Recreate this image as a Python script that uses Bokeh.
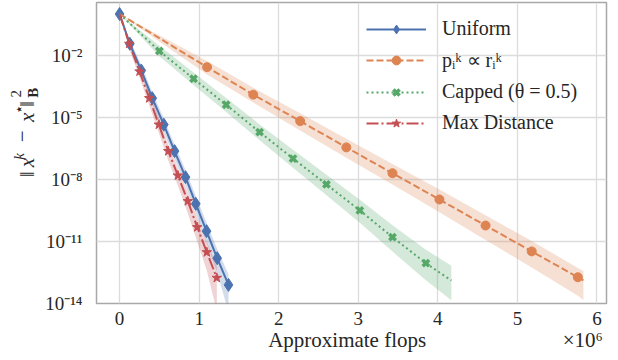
import numpy as np
from bokeh.plotting import figure
from bokeh.layouts import row
from bokeh.models import Range1d, FixedTicker, Legend, LegendItem, Label
from bokeh.embed import file_html
from bokeh.resources import INLINE

FONT = "Liberation Serif"
TEXT = "#262626"

# x: approximate flops in units of 1e6; y: log10 of ||x^k - x*||_B^2 (mean)
# band_hi / band_lo: spread above / below the mean, in decades
uniform_x = [0, 0.129, 0.273, 0.411, 0.556, 0.691, 0.829, 0.958, 1.093, 1.227, 1.369]
uniform_y = [0, -1.44, -2.73, -4.07, -5.35, -6.63, -7.89, -9.18, -10.50, -11.81, -13.10]
uniform_hi = [0, 0.20, 0.25, 0.30, 0.30, 0.32, 0.35, 0.38, 0.40, 0.45, 0.50]
uniform_lo = [0, 0.20, 0.25, 0.30, 0.35, 0.38, 0.42, 0.48, 0.55, 0.70, 1.30]

prop_x = [0, 1.10, 1.68, 2.27, 2.85, 3.43, 4.02, 4.60, 5.18, 5.76, 5.83]
prop_y = [0, -2.57, -3.90, -5.18, -6.45, -7.70, -8.97, -10.23, -11.48, -12.73, -12.88]
prop_hi = [0, 0.30, 0.33, 0.38, 0.42, 0.45, 0.48, 0.50, 0.50, 0.45, 0.45]
prop_lo = [0, 0.35, 0.38, 0.45, 0.50, 0.55, 0.62, 0.70, 0.78, 0.90, 0.95]

capped_x = [0, 0.50, 0.93, 1.34, 1.76, 2.18, 2.60, 3.02, 3.43, 3.85, 4.17]
capped_y = [0, -1.79, -3.13, -4.39, -5.71, -6.99, -8.24, -9.50, -10.79, -12.05, -12.89]
capped_hi = [0, 0.25, 0.30, 0.33, 0.37, 0.42, 0.47, 0.52, 0.58, 0.65, 0.72]
capped_lo = [0, 0.25, 0.30, 0.35, 0.40, 0.45, 0.52, 0.60, 0.70, 0.82, 0.95]

maxdist_x = [0, 0.122, 0.251, 0.373, 0.494, 0.612, 0.733, 0.858, 0.976, 1.097, 1.222]
maxdist_y = [0, -1.44, -2.78, -4.07, -5.35, -6.63, -7.81, -9.05, -10.31, -11.52, -12.76]
maxdist_hi = [0, 0.20, 0.25, 0.30, 0.30, 0.32, 0.35, 0.40, 0.45, 0.50, 0.55]
maxdist_lo = [0, 0.25, 0.30, 0.35, 0.40, 0.45, 0.50, 0.60, 0.70, 0.90, 1.60]

labels = ["Uniform", "pᵢᵏ ∝ rᵢᵏ", "Capped (θ = 0.5)", "Max Distance"]
colors = ["#4C72B0", "#DD8452", "#55A868", "#C44E52"]

x_ticks = [0, 1, 2, 3, 4, 5, 6]
y_ticks = [1e-2, 1e-5, 1e-8, 1e-11, 1e-14]
y_tick_labels = ["10⁻²", "10⁻⁵", "10⁻⁸", "10⁻¹¹", "10⁻¹⁴"]

series = [
    dict(x=uniform_x, y=uniform_y, hi=uniform_hi, lo=uniform_lo, marks=slice(0, None),
         marker="diamond", size=13, lw=1, dash="solid"),
    dict(x=prop_x, y=prop_y, hi=prop_hi, lo=prop_lo, marks=slice(1, -1),
         marker="circle", size=9, lw=1, dash="7 3"),
    dict(x=capped_x, y=capped_y, hi=capped_hi, lo=capped_lo, marks=slice(1, -1),
         marker="x", size=9, lw=3.5, dash="2 3"),
    dict(x=maxdist_x, y=maxdist_y, hi=maxdist_hi, lo=maxdist_lo, marks=slice(1, None),
         marker="star", size=10, lw=1, dash="12 3 2 3"),
]

LEFT_W = 40
p = figure(width=618 - LEFT_W, height=360, y_axis_type="log",
           x_range=Range1d(-0.29, 6.12), y_range=Range1d(1e-14, 3.6),
           output_backend="svg", toolbar_location=None,
           min_border_left=96 - LEFT_W, min_border_right=12, min_border_top=2,
           min_border_bottom=57)
p.background_fill_color = "white"
p.border_fill_color = "white"
p.outline_line_color = "#a8a8a8"
p.outline_line_width = 1.5

p.xaxis.ticker = FixedTicker(ticks=x_ticks)
p.yaxis.ticker = FixedTicker(ticks=y_ticks)
p.yaxis.major_label_overrides = {t: s for t, s in zip(y_ticks, y_tick_labels)}
for ax in (p.xaxis, p.yaxis):
    ax.axis_line_color = None
    ax.major_tick_line_color = None
    ax.minor_tick_line_color = None
    ax.major_label_text_font = FONT
    ax.major_label_text_font_size = "19px"
    ax.major_label_text_color = TEXT
p.xaxis.major_label_standoff = 2
p.yaxis.major_label_standoff = 8

# x label, with the x10^6 multiplier on the same line at the right end
NB = "\u00a0"
p.xaxis.axis_label = NB * 32 + "Approximate flops" + NB * 26 + "×10⁶"
p.xaxis.axis_label_text_font = FONT
p.xaxis.axis_label_text_font_size = "21px"
p.xaxis.axis_label_text_font_style = "normal"
p.xaxis.axis_label_text_color = TEXT
p.xaxis.axis_label_standoff = 0

p.grid.grid_line_color = "#dcdcdc"
p.grid.grid_line_width = 1.3

# shaded spread bands under every line
for s, c in zip(series, colors):
    y = np.array(s["y"])
    p.varea(x=s["x"], y1=10 ** (y - np.array(s["lo"])), y2=10 ** (y + np.array(s["hi"])),
            fill_color=c, fill_alpha=0.25)

items = []
for s, c, lab in zip(series, colors, labels):
    yv = 10 ** np.array(s["y"])
    ln = p.line(s["x"], yv, line_color=c, line_width=2, line_dash=s["dash"])
    mk = p.scatter(np.array(s["x"])[s["marks"]], yv[s["marks"]], marker=s["marker"],
                   size=s["size"], fill_color=c, line_color=c, line_width=s["lw"])
    items.append(LegendItem(label=lab, renderers=[ln, mk]))

legend = Legend(items=items, location=(270, 169), padding=0, margin=0, spacing=8,
                glyph_width=60, glyph_height=22, label_height=22, label_standoff=16,
                label_text_font=FONT, label_text_font_size="20px", label_text_color=TEXT,
                background_fill_alpha=0, border_line_alpha=0)
p.add_layout(legend)

# narrow strip on the left holding the rotated y label ||x^k - x*||^2_B.
# Each piece starts at `start` (measured upward) and is anchored on the
# top edge of its line box, so the glyph body hangs towards the plot.
left = figure(width=LEFT_W, height=360, x_range=Range1d(0, LEFT_W), y_range=Range1d(0, 360),
              output_backend="svg", toolbar_location=None, min_border=0,
              x_axis_location=None, y_axis_location=None)
left.outline_line_color = None
left.grid.visible = False
left.background_fill_color = "white"
left.border_fill_color = "white"

BASE = 33        # baseline of the main glyphs
ASCENT = 0.89    # top of the line box above the baseline, in em


def ylabel_piece(text, start, shift, size, style="normal"):
    left.add_layout(Label(x=BASE + shift - ASCENT * size, y=start, text=text,
                          angle=np.pi / 2, text_font=FONT, text_font_size=f"{size}px",
                          text_font_style=style, text_color=TEXT,
                          text_align="left", text_baseline="top"))


ylabel_piece("‖", 151, 0, 21)
ylabel_piece("x", 163, 0, 21, "italic")
ylabel_piece("k", 172, -9, 15, "italic")
ylabel_piece("−", 193, 0, 21)
ylabel_piece("x", 217, 0, 21, "italic")
ylabel_piece("⋆", 226.5, -9, 15)
ylabel_piece("‖", 235, 0, 21)
ylabel_piece("2", 246.5, -9, 15)
ylabel_piece("B", 246, 5, 15, "bold")

layout = row(left, p, spacing=0)
open("out.html", "w").write(file_html(layout, INLINE))
